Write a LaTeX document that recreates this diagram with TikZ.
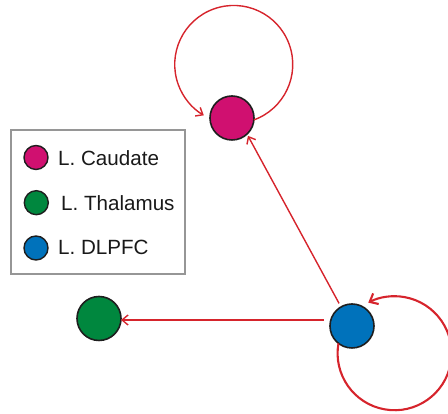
\documentclass[tikz,border=0pt]{standalone}
\usepackage{fontspec}
\setmainfont{Liberation Sans}
\usetikzlibrary{arrows.meta,calc}
\definecolor{cauC}{RGB}{208,16,112}
\definecolor{thalC}{RGB}{0,135,62}
\definecolor{dlC}{RGB}{0,114,187}
\definecolor{redC}{RGB}{214,36,44}
\definecolor{boxC}{RGB}{150,150,150}
\definecolor{rimC}{RGB}{30,30,30}
\tikzset{
  region/.style={circle, draw=rimC, line width=1.6pt, minimum size=44pt, inner sep=0pt, outer sep=0pt},
  keydot/.style={circle, draw=rimC, line width=1.4pt, minimum size=24pt, inner sep=0pt, outer sep=0pt},
  keytext/.style={anchor=base west, inner sep=0pt, font=\fontsize{20.6pt}{24pt}\selectfont, text=black!90},
  conn/.style={draw=redC, line width=1.4pt, -{Straight Barb[length=6pt,width=10pt,line width=1.4pt]}},
  thickconn/.style={draw=redC, line width=2.1pt, -{Straight Barb[length=7pt,width=12pt,line width=2.1pt]}},
  legendbox/.style={draw=boxC, line width=1.5pt}
}
\begin{document}
\begin{tikzpicture}[x=1pt,y=1pt]
\useasboundingbox (0,0) rectangle (448,414);
% nodes
\node[region, fill=cauC] (cau) at (232,296) {};
\node[region, fill=thalC] (thal) at (99,95.5) {};
\node[region, fill=dlC] (dl) at (352,88) {};
% self loops
\draw[conn] (cau.-5) arc[start angle=-70, end angle=239.5, radius=59];
\draw[thickconn] (dl.232) arc[start angle=170, end angle=477.5, radius=57];
% connectors
\draw[conn, shorten <=4pt, shorten >=2pt] (dl.120) -- (cau.-47);
\draw[conn] ([xshift=-6pt,yshift=6pt]dl.west) -- ([yshift=-1.5pt]thal.east);
% legend
\draw[legendbox] (11,140) rectangle (185,284);
\node[keydot, fill=cauC] (k1) at (36,256.5) {};
\node[keydot, fill=thalC] (k2) at (36.3,211.3) {};
\node[keydot, fill=dlC] (k3) at (36,166) {};
\node[keytext] (t1) at (58,248.3) {L. Caudate};
\node[keytext] (t2) at (61,203.3) {L. Thalamus};
\node[keytext] (t3) at (58,159) {L. DLPFC};
\end{tikzpicture}
\end{document}
